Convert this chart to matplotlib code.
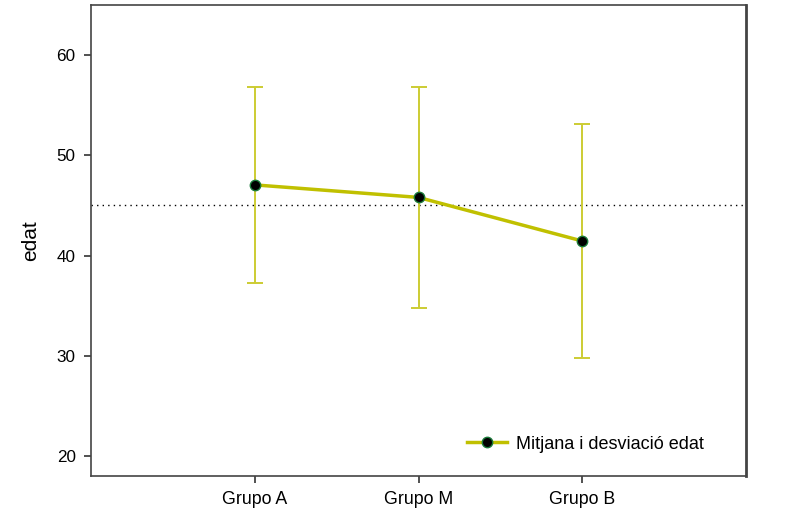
import numpy as np
import matplotlib.pyplot as plt

#%% data
grups = ['Grupo A', 'Grupo M', 'Grupo B']
mitjana = [47.05, 45.8, 41.45]
desviacio = [9.75, 11.0, 11.65]
mitjana_global = 45.0

#%% plot parameters
plt.rcParams['font.family'] = ['Liberation Sans', 'DejaVu Sans']
plt.rc('xtick', labelsize=12.8)
plt.rc('ytick', labelsize=12.3)

fig = plt.figure(figsize=[8.09, 5.31], dpi=100)
ax = fig.add_axes([91/809, 55/531, 655/809, 471/531])

x = np.arange(len(grups))
ax.errorbar(x, mitjana, yerr=desviacio, fmt='none', ecolor='#cccc33',
            elinewidth=1.4, capsize=6, capthick=1.4, zorder=2)
ax.plot(x, mitjana, '-o', c='#c0c000', lw=2.5, ms=7.5, mfc='black',
        mec='#1a7a3a', mew=1, zorder=3, label='Mitjana i desviació edat')
ax.axhline(mitjana_global, ls=(0, (1, 3)), c='black', lw=1, zorder=1)

ax.set_xlim(-1, 3)
ax.set_ylim(18, 65)
ax.set_xticks(x)
ax.set_xticklabels(grups)
ax.set_yticks([20, 30, 40, 50, 60])
ax.set_ylabel('edat', fontsize=15, labelpad=12)
ax.tick_params(length=5, width=1.2, color='#333333', pad=6)

for s in ['left', 'bottom', 'top']:
    ax.spines[s].set_color('#444444')
    ax.spines[s].set_linewidth(1.2)
ax.spines['right'].set_color('#444444')
ax.spines['right'].set_linewidth(2)

ax.legend(loc='lower right', frameon=False, fontsize=13, handlelength=2.2,
          handletextpad=0.5, bbox_to_anchor=(0.96, 0.015))

plt.savefig('out.png', dpi=100)
